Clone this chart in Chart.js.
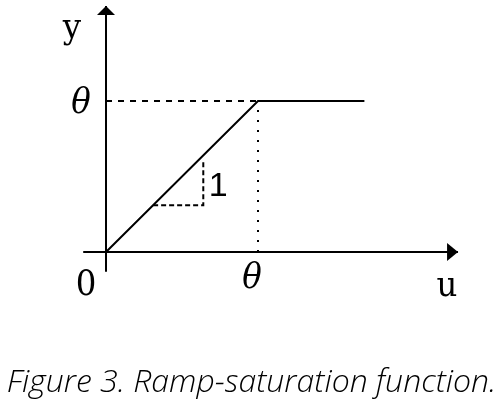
<!DOCTYPE html>
<html>
<head>
<meta charset="utf-8">
<script src="https://cdn.jsdelivr.net/npm/chart.js@4/dist/chart.umd.min.js"></script>
<style>
  html, body { margin: 0; padding: 0; background: #fff; }
  #wrap { width: 503px; height: 410px; }
</style>
</head>
<body>
<div id="wrap"><canvas id="ramp"></canvas></div>
<script>
// threshold and the ramp-saturation curve (u -> y)
const theta = 1
const rampU = [0, theta, 1.7]
const rampY = [0, theta, theta]

// axes (end of each is the arrow tip)
const xAxisU = [-0.15, 2.316]
const yAxisY = [-0.13, 1.629]

// slope triangle under the ramp
const slopeU = [0.31, 0.64, 0.64]
const slopeY = [0.31, 0.31, 0.61]

const caption = "Figure 3. Ramp-saturation function."

const toPoints = (xs, ys) => xs.map((x, i) => ({ x: x, y: ys[i] }))

const line = (data, dash, width) => ({
    data: data,
    showLine: true,
    borderColor: "#000",
    borderWidth: width,
    borderDash: dash,
    pointRadius: 0,
    fill: false,
    tension: 0,
})

// arrowheads and the axis / theta labels
const sketchPlugin = {
    id: "sketch",
    afterDatasetsDraw(chart) {
        const ctx = chart.ctx
        const xs = chart.scales.x
        const ys = chart.scales.y
        const px = (v) => xs.getPixelForValue(v)
        const py = (v) => ys.getPixelForValue(v)
        ctx.save()
        ctx.fillStyle = "#000"

        // y arrow
        const yx = px(0), yt = py(yAxisY[1])
        ctx.beginPath()
        ctx.moveTo(yx, yt)
        ctx.lineTo(yx - 9, yt + 9)
        ctx.lineTo(yx + 9, yt + 9)
        ctx.closePath()
        ctx.fill()

        // x arrow
        const xt = px(xAxisU[1]), xy = py(0)
        ctx.beginPath()
        ctx.moveTo(xt, xy)
        ctx.lineTo(xt - 11, xy - 9)
        ctx.lineTo(xt - 11, xy + 9)
        ctx.closePath()
        ctx.fill()

        ctx.textAlign = "center"
        ctx.textBaseline = "alphabetic"
        ctx.font = '36px "DejaVu Serif Condensed", "DejaVu Serif", serif'
        ctx.fillText("y", px(0) - 34, yt + 32)
        ctx.fillText("u", xt - 11, xy + 44)
        ctx.fillText("0", px(0) - 20, xy + 43)

        ctx.font = 'italic 36px "DejaVu Serif Condensed", "DejaVu Serif", serif'
        ctx.fillText("θ", px(0) - 25, py(theta) + 12)
        ctx.fillText("θ", px(theta) - 6, xy + 36)

        ctx.font = '34px "Liberation Sans", Arial, sans-serif'
        ctx.fillText("1", px(slopeU[1]) + 15, py((slopeY[1] + slopeY[2]) / 2) + 13)
        ctx.restore()
    },
}

new Chart(document.getElementById("ramp"), {
    type: "scatter",
    data: {
        datasets: [
            line(toPoints(xAxisU, [0, 0]), [], 2),
            line(toPoints([0, 0], yAxisY), [], 2),
            line(toPoints([0, theta], [theta, theta]), [6, 6], 2),
            line(toPoints([theta, theta], [0, theta]), [2, 8], 2),
            line(toPoints(rampU, rampY), [], 2),
            line(toPoints(slopeU, slopeY), [5, 3], 2),
        ],
    },
    options: {
        responsive: true,
        maintainAspectRatio: false,
        animation: false,
        layout: { padding: 0 },
        plugins: {
            legend: { display: false },
            tooltip: { enabled: false },
            title: {
                display: true,
                position: "bottom",
                text: caption,
                color: "#000",
                padding: { top: 0, bottom: 8 },
                font: {
                    family: '"Open Sans", sans-serif',
                    size: 32,
                    style: "italic",
                    weight: 300,
                    lineHeight: 1.2,
                },
            },
        },
        scales: {
            x: { type: "linear", display: false, min: -0.6974, max: 2.6118 },
            y: { type: "linear", display: false, min: -0.7391, max: 1.6689 },
        },
    },
    plugins: [sketchPlugin],
})
</script>
</body>
</html>
